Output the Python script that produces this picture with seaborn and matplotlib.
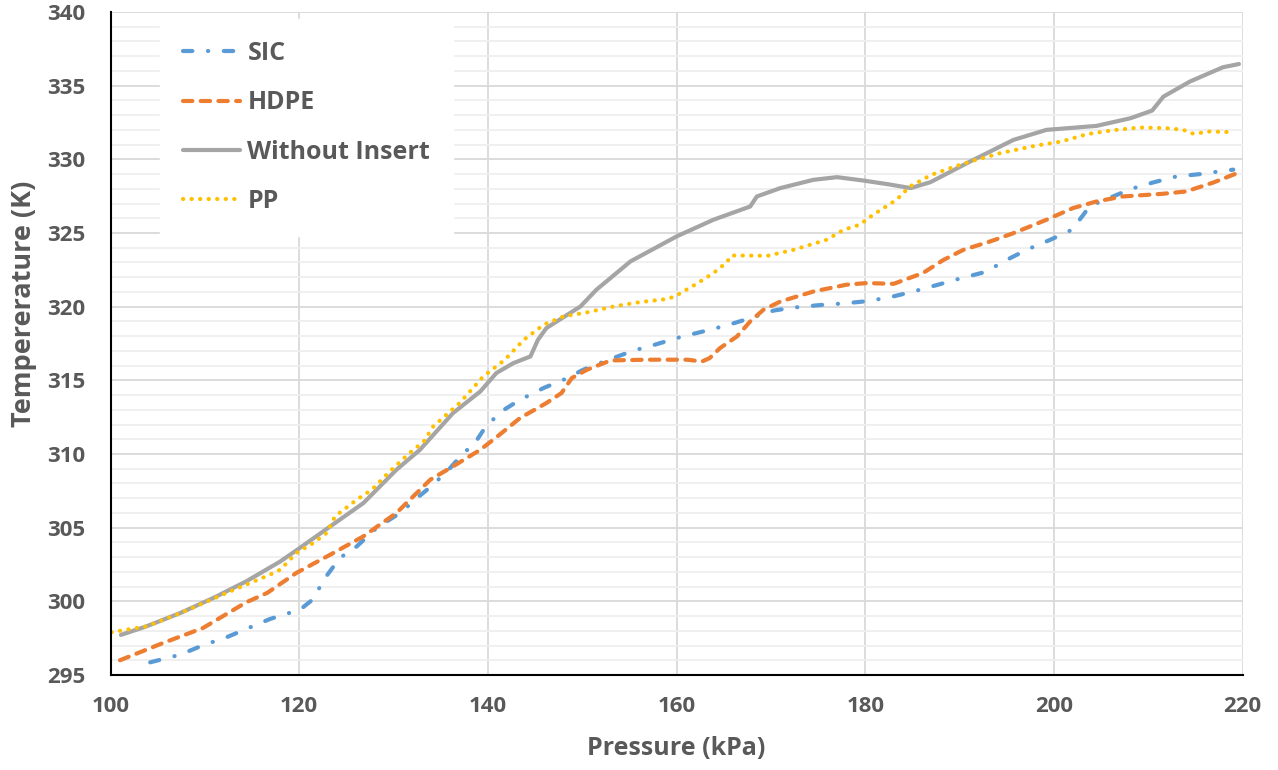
import numpy as np
import pandas as pd
import seaborn as sns
import matplotlib.pyplot as plt
from matplotlib.ticker import MultipleLocator

# values
sic_p = [104.2, 107.4, 109.8, 112.3, 114.4, 116.9, 120.1, 121.5, 122.6, 124.3, 126.1, 128.2,
         130.7, 132.5, 134.2, 136.0, 137.4, 138.5, 139.5, 141.2, 143.4, 145.9, 148.2, 150.1,
         152.8, 155.4, 157.7, 160.4, 162.7, 165.3, 167.6, 170.3, 172.6, 175.2, 177.7, 180.3,
         182.8, 185.1, 187.7, 190.2, 192.7, 195.0, 197.1, 199.6, 201.9, 203.1, 203.8, 205.6,
         208.1, 210.5, 213.0, 215.5, 218.1, 219.0]
sic_t = [295.86, 296.38, 297.02, 297.56, 298.13, 298.80, 299.44, 300.16, 301.47, 302.94, 303.73, 304.98,
         306.00, 307.02, 307.92, 309.05, 310.07, 310.63, 311.60, 312.80, 313.68, 314.48, 315.09, 315.72,
         316.40, 317.01, 317.42, 317.94, 318.30, 318.73, 319.18, 319.74, 319.95, 320.11, 320.22, 320.38,
         320.67, 321.03, 321.49, 321.94, 322.35, 323.18, 323.86, 324.54, 325.22, 326.23, 326.84, 327.30,
         327.98, 328.43, 328.84, 329.00, 329.23, 329.30]

hdpe_p = [101.0, 105.6, 109.8, 114.4, 116.6, 119.7, 123.3, 126.8, 130.3, 132.1, 133.9, 136.3,
          139.2, 141.0, 143.4, 146.2, 147.8, 148.9, 150.5, 153.0, 156.8, 161.1, 162.7, 163.5,
          164.6, 166.4, 167.8, 169.2, 171.0, 174.5, 178.0, 180.1, 183.0, 186.1, 188.3, 190.4,
          193.2, 195.7, 199.2, 202.0, 204.5, 207.3, 211.5, 214.0, 216.9, 219.4]
hdpe_t = [296.00, 297.18, 298.19, 299.94, 300.57, 301.93, 303.17, 304.41, 306.00, 307.13, 308.26, 309.16,
          310.29, 311.19, 312.44, 313.46, 314.14, 315.16, 315.72, 316.35, 316.40, 316.40, 316.28, 316.51,
          317.19, 317.98, 319.00, 319.79, 320.35, 321.03, 321.49, 321.60, 321.55, 322.28, 323.18, 323.86,
          324.42, 324.99, 325.90, 326.69, 327.14, 327.48, 327.66, 327.82, 328.43, 329.06]

wo_p = [101.1, 103.8, 107.4, 110.9, 114.4, 118.0, 119.9, 123.3, 126.8, 130.3, 132.8, 136.3,
        139.2, 140.9, 142.7, 144.5, 145.3, 146.2, 149.8, 151.5, 155.1, 160.0, 163.9, 167.8,
        168.5, 171.0, 174.5, 177.0, 179.8, 182.5, 184.8, 186.9, 191.1, 195.7, 199.2, 204.5,
        208.1, 210.4, 211.6, 214.4, 217.9, 219.6]
wo_t = [297.72, 298.30, 299.21, 300.23, 301.36, 302.71, 303.55, 305.09, 306.67, 308.93, 310.29, 312.78,
        314.25, 315.50, 316.17, 316.62, 317.75, 318.55, 320.01, 321.15, 323.07, 324.77, 325.90, 326.80,
        327.48, 328.05, 328.61, 328.79, 328.56, 328.30, 328.05, 328.45, 329.85, 331.32, 332.00, 332.27,
        332.79, 333.31, 334.26, 335.28, 336.25, 336.47]

pp_p = [100.1, 103.8, 107.4, 112.7, 116.9, 118.0, 119.7, 121.5, 122.9, 123.8, 126.1, 127.7,
        129.6, 131.7, 133.2, 134.2, 137.0, 139.5, 141.8, 143.8, 145.9, 148.0, 150.5, 153.3,
        156.1, 158.9, 159.8, 162.1, 163.9, 165.3, 165.8, 167.4, 169.6, 172.4, 175.9, 177.7,
        179.4, 180.8, 183.3, 184.7, 187.0, 189.7, 191.4, 194.3, 198.0, 200.8, 203.5, 206.3,
        209.1, 211.9, 213.7, 214.8, 216.5, 218.5]
pp_t = [297.90, 298.30, 299.20, 300.68, 301.81, 302.15, 303.28, 303.96, 304.64, 305.77, 306.90, 307.58,
        308.82, 310.07, 310.85, 311.87, 313.46, 315.26, 316.40, 317.75, 318.77, 319.34, 319.61, 320.01,
        320.31, 320.51, 320.69, 321.55, 322.28, 323.00, 323.47, 323.47, 323.45, 323.86, 324.54, 325.22,
        325.56, 326.23, 327.25, 328.15, 328.95, 329.56, 329.90, 330.42, 330.92, 331.21, 331.71, 331.98,
        332.16, 332.12, 332.00, 331.73, 331.89, 331.85]

x_ticks = [100, 120, 140, 160, 180, 200, 220]
y_ticks = [295, 300, 305, 310, 315, 320, 325, 330, 335, 340]

TEXT = "#595959"

sns.set_style("white")
plt.rcParams["font.family"] = ["Open Sans", "DejaVu Sans"]
plt.rcParams["font.weight"] = "bold"

fig, ax = plt.subplots(figsize=(12.78, 7.70), dpi=100)
fig.subplots_adjust(left=0.0865, right=0.9724, top=0.9844, bottom=0.1234)

series = [
    ("SIC", sic_p, sic_t, "#5B9BD5", (0, (2.25, 3.75, 0.05, 3.75))),
    ("HDPE", hdpe_p, hdpe_t, "#ED7D31", (0, (2.25, 2.0))),
    ("Without Insert", wo_p, wo_t, "#A5A5A5", "-"),
    ("PP", pp_p, pp_t, "#FFC000", (0, (0.05, 2.0))),
]
for name, p, t, col, ls in series:
    df = pd.DataFrame({"p": p, "t": t})
    sns.lineplot(data=df, x="p", y="t", ax=ax, color=col, linewidth=3.0,
                 linestyle=ls, estimator=None, sort=False, label=name,
                 dash_capstyle="round", solid_capstyle="round")

ax.set_xlim(100, 220)
ax.set_ylim(295, 340)
ax.set_xticks(x_ticks)
ax.set_yticks(y_ticks)
ax.yaxis.set_minor_locator(MultipleLocator(1))
ax.set_axisbelow(True)
ax.grid(which="major", axis="both", color="#D9D9D9", linewidth=1.3)
ax.grid(which="minor", axis="y", color="#EFEFEF", linewidth=1.3)
ax.tick_params(which="both", length=0)
ax.tick_params(axis="y", pad=18, labelsize=16, labelcolor=TEXT)
ax.tick_params(axis="x", pad=15, labelsize=16, labelcolor=TEXT)
for lab in ax.get_xticklabels() + ax.get_yticklabels():
    lab.set_fontweight("bold")
for s in ["top", "right"]:
    ax.spines[s].set_visible(False)
for s in ["left", "bottom"]:
    ax.spines[s].set_color("black")
    ax.spines[s].set_linewidth(1.5)

ax.set_xlabel("Pressure (kPa)", fontsize=18, color=TEXT, fontweight="bold")
ax.set_ylabel("Tempererature (K)", fontsize=19.5, color=TEXT, fontweight="bold")
ax.xaxis.set_label_coords(0.5, -0.092)
ax.yaxis.set_label_coords(-0.065, 0.56)

leg = ax.legend(loc="upper left", bbox_to_anchor=(0.044, 0.99), borderaxespad=0,
                fontsize=18, frameon=True, fancybox=False, framealpha=1,
                edgecolor="white", facecolor="white", handlelength=2.3,
                handletextpad=0.28, labelspacing=0.97, borderpad=0.9)
for txt in leg.get_texts():
    txt.set_color(TEXT)
    txt.set_fontweight("bold")

fig.savefig("out.png", dpi=100)
